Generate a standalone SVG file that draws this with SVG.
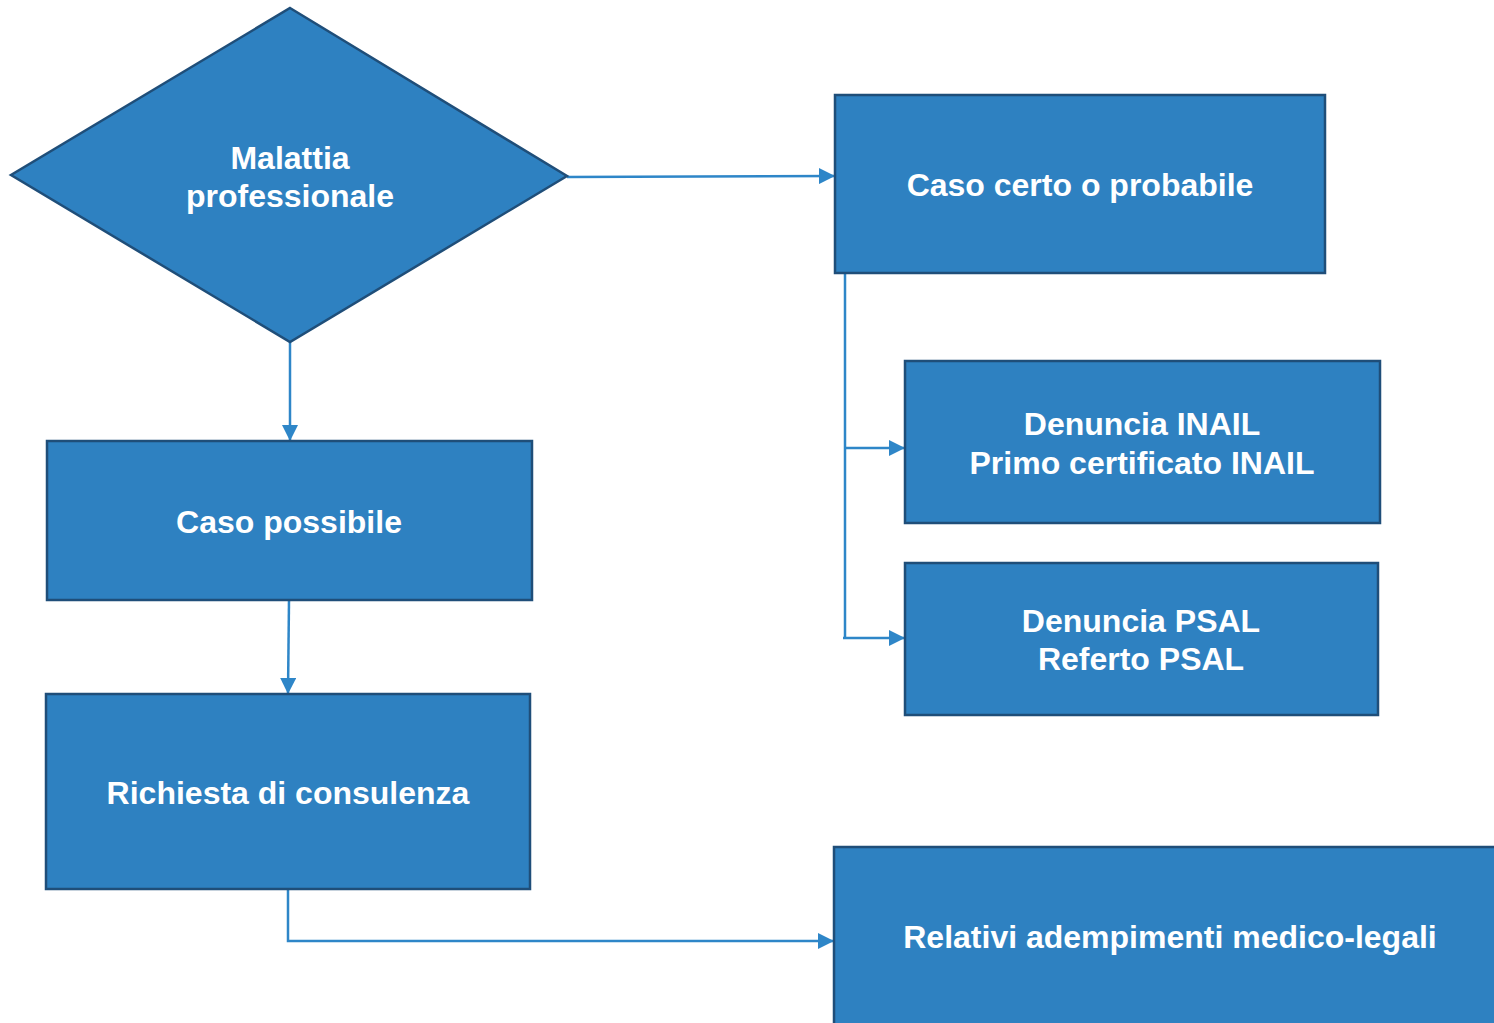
<svg xmlns="http://www.w3.org/2000/svg" width="1494" height="1023" viewBox="0 0 1494 1023">
<style>
.n{fill:#2E81C1;stroke:#1F4E79;stroke-width:2.5}
.t{fill:#fff;font-family:"Liberation Sans",Arial,sans-serif;font-weight:bold;font-size:32px;text-anchor:middle}
.c{fill:none;stroke:#2E86C8;stroke-width:2.5}
</style>
<defs>
<marker id="ah" viewBox="0 0 16 16" refX="15" refY="8" markerWidth="16" markerHeight="16" orient="auto" markerUnits="userSpaceOnUse">
<path d="M0,0 L16,8 L0,16 Z" fill="#2E86C8"/>
</marker>
</defs>
<rect width="1494" height="1023" fill="#fff"/>
<g id="connectors">
<path class="c" d="M567,177 L834,176" marker-end="url(#ah)"/>
<path class="c" d="M290,342 L290,440" marker-end="url(#ah)"/>
<path class="c" d="M289,600 L288,693" marker-end="url(#ah)"/>
<path class="c" d="M288,889 L288,941 L833,941" marker-end="url(#ah)"/>
<path class="c" d="M845,273 L845,638"/>
<path class="c" d="M845,448 L904,448" marker-end="url(#ah)"/>
<path class="c" d="M843,638 L904,638" marker-end="url(#ah)"/>
</g>
<g id="n1">
<polygon class="n" points="290,8 567,176 290,342 11,175"/>
<text class="t" x="290" y="169">Malattia</text>
<text class="t" x="290" y="207">professionale</text>
</g>
<g id="n2">
<rect class="n" x="835" y="95" width="490" height="178"/>
<text class="t" x="1080" y="196">Caso certo o probabile</text>
</g>
<g id="n3">
<rect class="n" x="905" y="361" width="475" height="162"/>
<text class="t" x="1142" y="435">Denuncia INAIL</text>
<text class="t" x="1142" y="474">Primo certificato INAIL</text>
</g>
<g id="n4">
<rect class="n" x="905" y="563" width="473" height="152"/>
<text class="t" x="1141" y="632">Denuncia PSAL</text>
<text class="t" x="1141" y="670">Referto PSAL</text>
</g>
<g id="n5">
<rect class="n" x="47" y="441" width="485" height="159"/>
<text class="t" x="289" y="533">Caso possibile</text>
</g>
<g id="n6">
<rect class="n" x="46" y="694" width="484" height="195"/>
<text class="t" x="288" y="804">Richiesta di consulenza</text>
</g>
<g id="n7">
<rect class="n" x="834" y="847" width="680" height="190"/>
<text class="t" x="1170" y="948">Relativi adempimenti medico-legali</text>
</g>
</svg>
